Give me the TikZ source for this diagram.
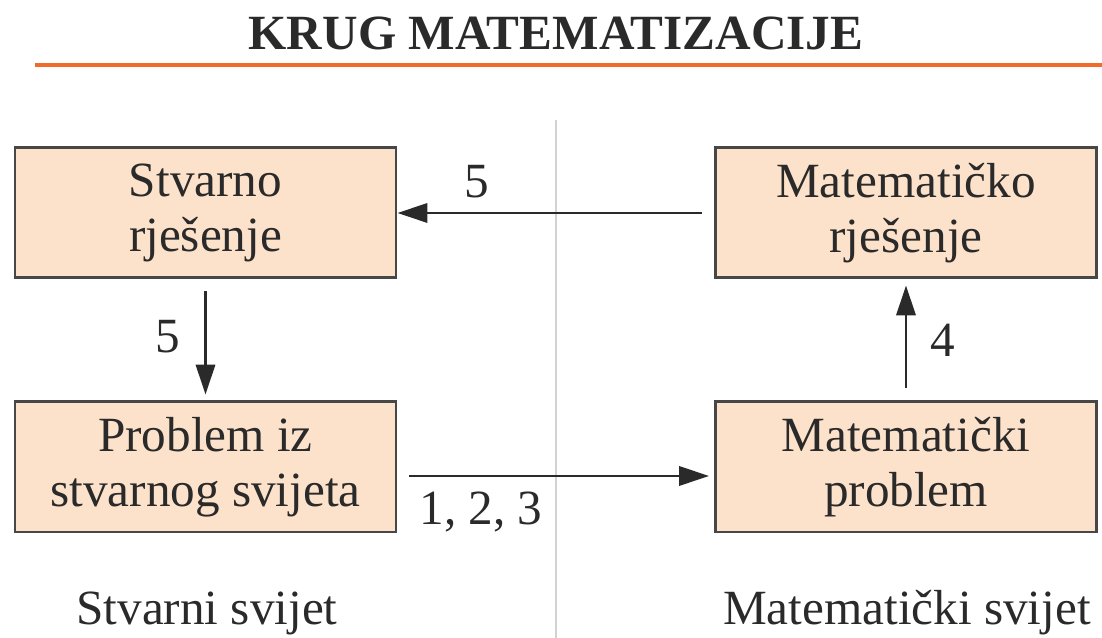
\documentclass[tikz,border=0pt]{standalone}
\usepackage{fontspec}
\setmainfont{Liberation Serif}
\usetikzlibrary{arrows.meta}
\definecolor{boxfill}{HTML}{FDE2CB}
\definecolor{boxline}{HTML}{474747}
\definecolor{crta}{HTML}{F26A2A}
\definecolor{razdjel}{HTML}{D2D2D2}
\definecolor{ink}{HTML}{2A2A2A}
\begin{document}
\begin{tikzpicture}[font=\fontsize{28}{31.5}\selectfont,
	every node/.style={text=ink},
	korak/.style={draw=boxline,line width=1.7pt,fill=boxfill,minimum width=7.62cm,minimum height=2.6cm,align=center,inner sep=0pt},
	strelica/.style={-{Triangle[length=17pt,width=11pt]},line width=1.3pt,draw=ink}]
\useasboundingbox (0,0) rectangle (22.04,12.76);
\node (naslov) at (11.12,11.76) [anchor=base] {\bfseries KRUG MATEMATIZACIJE};
\draw [crta,line width=2.3pt] (0.7,11.46) -- (22.04,11.46);
\draw [razdjel,line width=1.6pt] (11.12,10.36) -- (11.12,0);
% kutije
\node [korak] (stvRj) at (4.11,8.5) {Stvarno\\rješenje};
\node [korak] (matRj) at (18.12,8.5) {Matematičko\\rješenje};
\node [korak] (stvPr) at (4.11,3.42) {Problem iz\\stvarnog svijeta};
\node [korak] (matPr) at (18.12,3.42) {Matematički\\problem};
% strelice
\draw [strelica,shorten <=0.24cm] (matRj.west) -- (stvRj.east);
\draw [strelica,shorten <=0.24cm,shorten >=0.12cm] (stvRj.south) -- (stvPr.north);
\draw [strelica,shorten <=0.24cm,shorten >=0.12cm] (matPr.north) -- (matRj.south);
\draw [strelica,shorten <=0.24cm,shorten >=0.1cm] ([yshift=-0.18cm]stvPr.east) -- ([yshift=-0.18cm]matPr.west);
\node (brPet) at (9.54,9.12) {5};
\node (brPetB) at (3.36,6.02) {5};
\node (brCetiri) at (18.86,5.96) {4};
\node (brJedan) at (9.62,2.52) {1, 2, 3};
% svjetovi
\node (stvSvijet) at (4.14,0.26) [anchor=base] {Stvarni svijet};
\node (matSvijet) at (18.14,0.26) [anchor=base] {Matematički svijet};
\end{tikzpicture}
\end{document}
